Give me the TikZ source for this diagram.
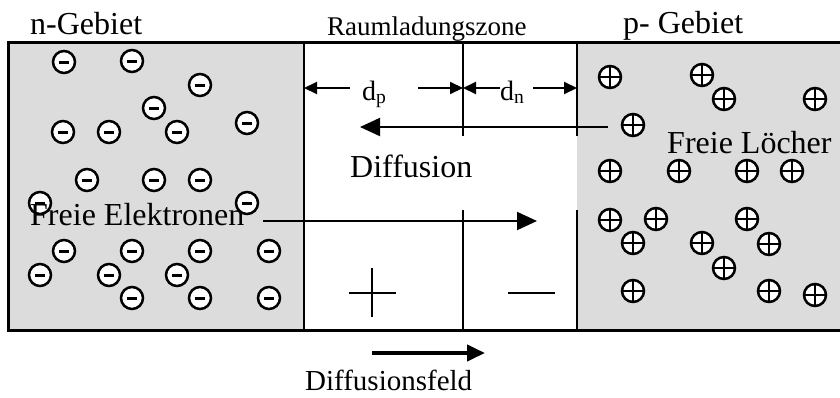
\documentclass[tikz,border=0pt]{standalone}
\usepackage{fontspec}
\setmainfont{Liberation Serif}
\usetikzlibrary{arrows.meta}
\definecolor{gebiet}{RGB}{220,220,220}
\tikzset{
  ladung/.style={circle, draw, fill=white, line width=2.5pt, minimum size=22pt, inner sep=0pt},
  elektron/.style={ladung, path picture={
    \draw[line width=3pt] ([xshift=-5pt]path picture bounding box.center)
      -- ([xshift=5pt]path picture bounding box.center);}},
  loch/.style={ladung, path picture={
    \draw[line width=2.5pt] (path picture bounding box.north) -- (path picture bounding box.south)
      (path picture bounding box.west) -- (path picture bounding box.east);}},
  beschriftung/.style={anchor=base west, inner sep=0pt, font=\fontsize{32}{36}\selectfont},
  pfeil/.style={-{Triangle[length=20pt,width=18pt]}, line width=2pt},
  mass/.style={-{Triangle[length=13pt,width=12pt]}, line width=2pt}
}
\begin{document}
\begin{tikzpicture}[x=1pt, y=-1pt]
\useasboundingbox (0,0) rectangle (840,397);

% n- und p-Gebiet, Raumladungszone
\fill[gebiet] (8,42) rectangle (304,330);
\fill[gebiet] (577,42) rectangle (845,330);
\draw[line width=3pt] (8,42) rectangle (845,330);
\draw[line width=2pt] (304,42) -- (304,330);
\draw[line width=2pt] (463,42) -- (463,136) (463,210) -- (463,330);
\draw[line width=2pt] (577,42) -- (577,136) (577,210) -- (577,330);

% Elektronen
\foreach \x/\y [count=\i] in {64/62, 132/61, 200/85, 154/108, 63/132, 109/132, 177/132,
    247/123, 87/180, 154/180, 200/180, 40/203, 247/203, 64/251, 132/251, 200/251,
    269/251, 40/275, 109/275, 177/275, 132/298, 200/298, 269/298}
  \node[elektron] (e\i) at (\x,\y) {};

% Loecher
\foreach \x/\y [count=\i] in {610/77, 702/75, 724/99, 815/99, 633/125, 610/171, 679/171,
    747/171, 792/171, 610/220, 656/219, 747/219, 633/243, 702/243, 769/244, 724/268,
    633/291, 769/291, 815/295}
  \node[loch] (l\i) at (\x,\y) {};

\node[beschriftung] (ngebiet) at (30,34) {n-Gebiet};
\node[beschriftung, font=\fontsize{27}{30}\selectfont] (rlz) at (327,35) {Raumladungszone};
\node[beschriftung] (pgebiet) at (623,33) {p- Gebiet};
\node[beschriftung] (diff) at (350,177) {Diffusion};
\node[beschriftung] (fe) at (30,225) {Freie Elektronen};
\node[beschriftung] (fl) at (667,153) {Freie Löcher};
\node[beschriftung, font=\fontsize{29}{32}\selectfont] (feld) at (305,390) {Diffusionsfeld};
\node[beschriftung, font=\fontsize{28}{30}\selectfont] (dp) at (362,100) {d\textsubscript{p}};
\node[beschriftung, font=\fontsize{28}{30}\selectfont] (dn) at (500,100) {d\textsubscript{n}};

% Weiten dp und dn
\coordinate (rl-links) at (304,88);
\coordinate (rl-mitte) at (463,88);
\coordinate (rl-rechts) at (577,88);
\coordinate (dp-a) at (350,88);
\coordinate (dp-b) at (418,88);
\coordinate (dn-a) at (500,88);
\coordinate (dn-b) at (533,88);
\draw[mass] (dp-a) -- (rl-links);
\draw[mass] (dp-b) -- (rl-mitte);
\draw[mass] (dn-a) -- (rl-mitte);
\draw[mass] (dn-b) -- (rl-rechts);

% Diffusionspfeile
\coordinate (loch-start) at (608,127);
\coordinate (loch-ziel) at (360,127);
\coordinate (el-start) at (263,221);
\coordinate (el-ziel) at (537,221);
\draw[pfeil] (loch-start) -- (loch-ziel);
\draw[pfeil] (el-start) -- (el-ziel);

% Raumladungen
\draw[line width=2pt] (349,293) -- (396,293) (372,268) -- (372,317);
\draw[line width=2pt] (508,293) -- (555,293);

\coordinate (feld-start) at (372,353);
\coordinate (feld-ziel) at (485,353);
\draw[-{Triangle[length=18pt,width=16pt]}, line width=4pt] (feld-start) -- (feld-ziel);
\end{tikzpicture}
\end{document}
